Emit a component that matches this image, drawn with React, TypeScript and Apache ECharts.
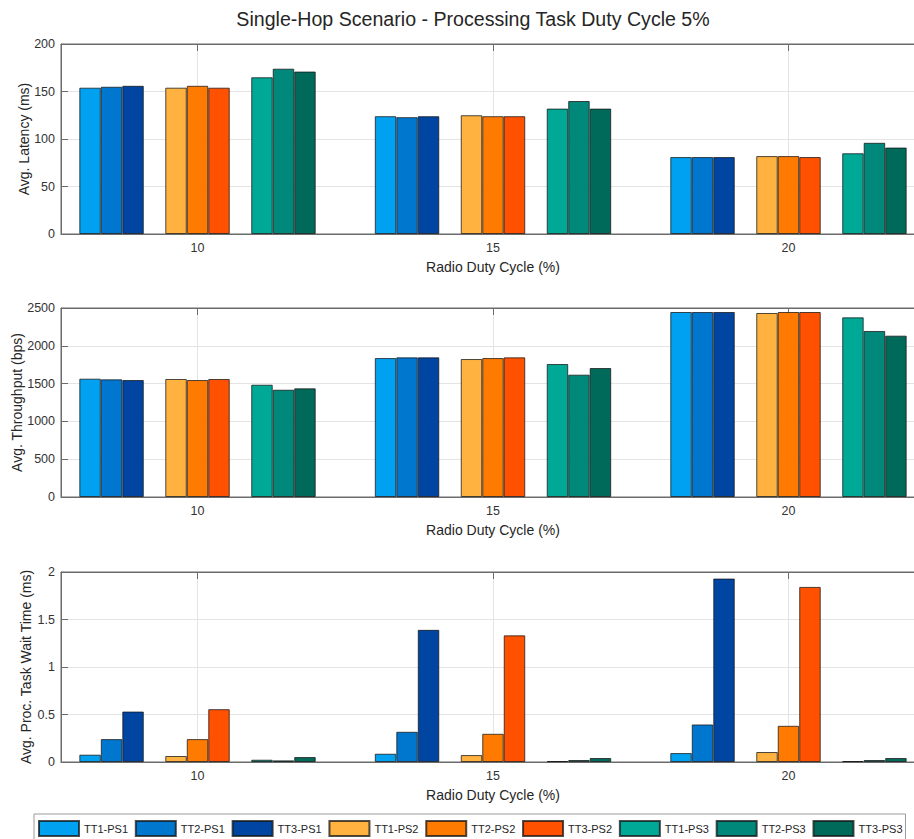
import React, { useEffect, useRef } from "react";
import * as echarts from "echarts";

// Radio duty cycle categories (%)
const categories = [10, 15, 20];

// Series names (legend order)
const seriesNames = [
  "TT1-PS1", "TT2-PS1", "TT3-PS1",
  "TT1-PS2", "TT2-PS2", "TT3-PS2",
  "TT1-PS3", "TT2-PS3", "TT3-PS3",
];

const colors = [
  "#00A1F1", "#0077CF", "#0045A1",
  "#FFB23F", "#FF7A00", "#FF5100",
  "#00A896", "#00897A", "#006A5A",
];

// Avg. Latency (ms): one row per series, values at 10, 15, 20
const latency = [
  [154, 124, 81],
  [155, 123, 81],
  [156, 124, 81],
  [154, 125, 82],
  [156, 124, 82],
  [154, 124, 81],
  [165, 132, 85],
  [174, 140, 96],
  [171, 132, 91],
];

// Avg. Throughput (bps)
const throughput = [
  [1565, 1838, 2447],
  [1556, 1847, 2447],
  [1547, 1847, 2447],
  [1561, 1825, 2434],
  [1547, 1838, 2447],
  [1561, 1847, 2447],
  [1485, 1759, 2376],
  [1419, 1618, 2196],
  [1437, 1706, 2134],
];

// Avg. Proc. Task Wait Time (ms)
const waitTime = [
  [0.077, 0.087, 0.094],
  [0.241, 0.318, 0.395],
  [0.531, 1.391, 1.931],
  [0.063, 0.073, 0.105],
  [0.241, 0.297, 0.381],
  [0.556, 1.333, 1.843],
  [0.024, 0.01, 0.01],
  [0.017, 0.021, 0.021],
  [0.052, 0.042, 0.042],
];

const yNames = ["Avg. Latency (ms)", "Avg. Throughput (bps)", "Avg. Proc. Task Wait Time (ms)"];
const yMax = [200, 2500, 2];
const yInterval = [50, 500, 0.5];

const FONT = "'Liberation Sans', Arial, Helvetica, sans-serif";

export default function App() {
  const ref = useRef<HTMLDivElement>(null);

  useEffect(() => {
    if (!ref.current) return;
    const chart = echarts.init(ref.current, undefined, { renderer: "svg" });

    const panels = [latency, throughput, waitTime];
    const gridTops = [44, 308, 572];
    const gridHeights = [190, 189, 190];
    const nameGaps = [30.5, 37, 28];
    const axisColor = "#6b6b6b";
    const gridColor = "#e4e4e4";

    const grids: any[] = [];
    const xAxes: any[] = [];
    const yAxes: any[] = [];
    const series: any[] = [];

    panels.forEach((panel, i) => {
      grids.push({
        left: 61,
        top: gridTops[i],
        width: 864,
        height: gridHeights[i],
        containLabel: false,
        outerBoundsMode: "none",
        show: true,
        borderColor: axisColor,
        borderWidth: 1,
        backgroundColor: "transparent",
      });
      xAxes.push({
        type: "value",
        gridIndex: i,
        position: "bottom",
        min: 7.69,
        max: 22.31,
        name: "Radio Duty Cycle (%)",
        nameLocation: "middle",
        nameGap: 26,
        nameTextStyle: { fontSize: 14, color: "#262626", fontFamily: FONT },
        axisLine: { show: true, onZero: false, lineStyle: { color: axisColor, width: 1 } },
        axisTick: { show: true, inside: true, length: 7, customValues: categories, lineStyle: { color: axisColor } },
        axisLabel: { customValues: categories, fontSize: 12.5, color: "#333", margin: 7, fontFamily: FONT },
        splitLine: { show: true, lineStyle: { color: gridColor, width: 1 } },
      });
      xAxes.push({
        type: "value",
        gridIndex: i,
        position: "top",
        min: 7.69,
        max: 22.31,
        axisLine: { show: true, onZero: false, lineStyle: { color: axisColor, width: 1 } },
        axisTick: { show: true, inside: true, length: 7, customValues: categories, lineStyle: { color: axisColor } },
        axisLabel: { show: false, customValues: categories },
        splitLine: { show: false },
      });
      yAxes.push({
        type: "value",
        gridIndex: i,
        min: 0,
        max: yMax[i],
        interval: yInterval[i],
        name: yNames[i],
        nameLocation: "middle",
        nameGap: nameGaps[i],
        nameMoveOverlap: false,
        nameTextStyle: { fontSize: 14, color: "#262626", fontFamily: FONT },
        axisLine: { show: true, lineStyle: { color: axisColor, width: 1 } },
        axisTick: { show: true, inside: true, length: 7, lineStyle: { color: axisColor } },
        axisLabel: {
          fontSize: 12.5,
          color: "#333",
          margin: 6,
          fontFamily: FONT,
          formatter: (v: number) => String(v),
        },
        splitLine: { show: true, lineStyle: { color: gridColor, width: 1 } },
      });

      // 11 slots: 3 bars, spacer, 3 bars, spacer, 3 bars
      let k = 0;
      for (let slot = 0; slot < 11; slot++) {
        if (slot === 3 || slot === 7) {
          series.push({
            type: "bar",
            name: "spacer",
            xAxisIndex: i * 2,
            yAxisIndex: i,
            barGap: "0%",
            barCategoryGap: "20%",
            itemStyle: { color: "transparent", borderWidth: 0 },
            data: categories.map((c) => [c, 0]),
            silent: true,
          });
        } else {
          const idx = k++;
          series.push({
            type: "bar",
            name: seriesNames[idx],
            xAxisIndex: i * 2,
            yAxisIndex: i,
            barGap: "0%",
            barCategoryGap: "20%",
            itemStyle: { color: colors[idx], borderColor: "rgba(20,20,20,0.75)", borderWidth: 1 },
            data: categories.map((c, j) => [c, panel[idx][j]]),
          });
        }
      }
    });

    chart.setOption({
      animation: false,
      backgroundColor: "#ffffff",
      textStyle: { fontFamily: FONT },
      grid: grids,
      xAxis: xAxes,
      yAxis: yAxes,
      series,
      legend: {
        data: seriesNames,
        left: 34,
        top: 814,
        width: 900,
        orient: "horizontal",
        icon: "rect",
        itemWidth: 40,
        itemHeight: 15,
        itemGap: 6.8,
        padding: [6, 3, 8, 4],
        borderColor: "#9a9a9a",
        borderWidth: 1,
        backgroundColor: "#fff",
        selectedMode: false,
        textStyle: { fontSize: 11, color: "#262626", fontFamily: FONT },
      },
      graphic: [
        {
          type: "text",
          x: 473,
          y: 19,
          style: {
            text: "Single-Hop Scenario - Processing Task Duty Cycle 5%",
            fontSize: 19.6,
            fontFamily: FONT,
            fill: "#262626",
            textAlign: "center",
            textVerticalAlign: "middle",
          },
        },
      ],
    });

    return () => chart.dispose();
  }, []);

  return (
    <div
      ref={ref}
      style={{ position: "fixed", left: 0, top: 0, width: 914, height: 839, background: "#fff" }}
    />
  );
}
